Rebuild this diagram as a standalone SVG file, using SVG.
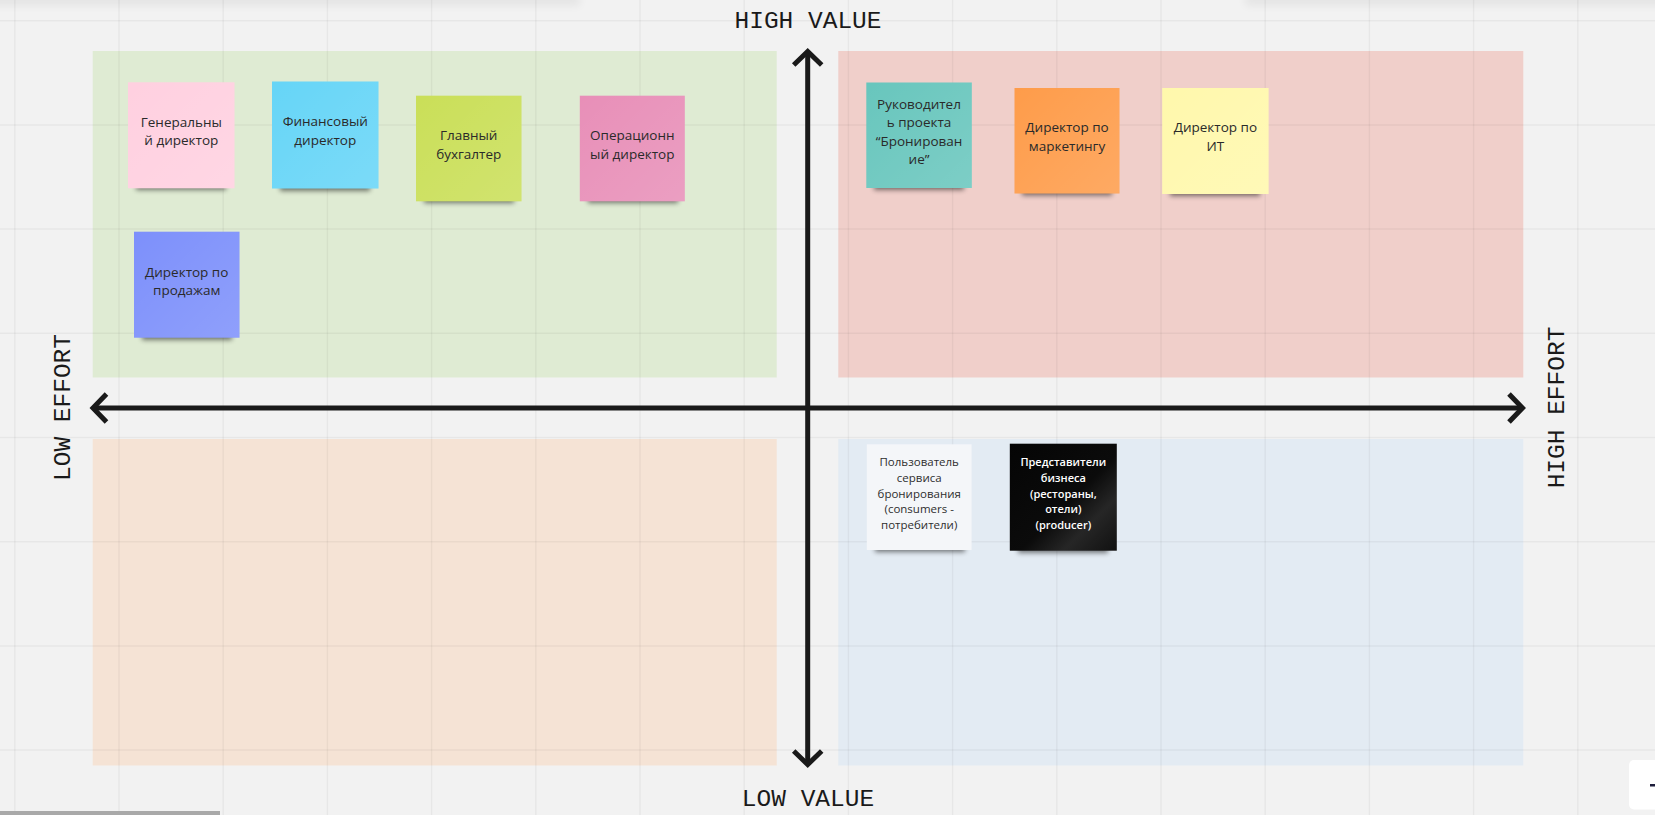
<svg xmlns="http://www.w3.org/2000/svg" width="1655" height="815" viewBox="0 0 1655 815">
<defs>
<style>
.grid line{stroke:#000;stroke-opacity:0.045;stroke-width:1.5}
.axis{stroke:#1a1a1a;stroke-width:5;fill:none}
.lbl{font-family:"Liberation Mono","DejaVu Sans Mono",monospace;font-size:24.5px;fill:#1a1a1a;text-anchor:middle}
.nt{font-family:"Open Sans","Noto Sans",sans-serif;font-size:13.5px;fill:#2a2a2a;text-anchor:middle}
.ns{font-family:"Open Sans","Noto Sans",sans-serif;font-size:11.5px;fill:#2e2e2e;text-anchor:middle}
.nw{font-family:"Open Sans","Noto Sans",sans-serif;font-size:11px;font-weight:600;fill:#ffffff;text-anchor:middle}
.shadow{fill:#000;opacity:0.5;filter:url(#blur)}
.sheen{fill:url(#sheen)}
</style>
<filter id="blur" x="-20%" y="-100%" width="140%" height="300%"><feGaussianBlur stdDeviation="2.6"/></filter>
<filter id="blur2" x="-5%" y="-100%" width="110%" height="300%"><feGaussianBlur stdDeviation="4"/></filter>
<linearGradient id="sheen" x1="0" y1="0" x2="1" y2="1">
<stop offset="0" stop-color="#fff" stop-opacity="0"/>
<stop offset="1" stop-color="#fff" stop-opacity="0.14"/>
</linearGradient>
<linearGradient id="blackg" x1="0" y1="0" x2="1" y2="1">
<stop offset="0" stop-color="#050505"/>
<stop offset="0.55" stop-color="#0b0b0b"/>
<stop offset="0.75" stop-color="#262626"/>
<stop offset="1" stop-color="#111"/>
</linearGradient>
<marker id="chev" markerUnits="userSpaceOnUse" orient="auto-start-reverse" refX="0" refY="0" markerWidth="40" markerHeight="40" overflow="visible">
<path d="M-12,-14 L1.5,0 L-12,14" fill="none" stroke="#1a1a1a" stroke-width="5" stroke-linejoin="miter"/>
</marker>
</defs>

<rect x="0" y="0" width="1655" height="815" fill="#f2f2f2"/>
<rect x="-10" y="-8" width="590" height="14" fill="#000" opacity="0.05" filter="url(#blur2)"/>
<rect x="1245" y="-8" width="420" height="14" fill="#000" opacity="0.05" filter="url(#blur2)"/>

<g id="quadrants">
<rect id="q-high-value-low-effort" x="92.7" y="51" width="684" height="326.5" fill="#dfebd3"/>
<rect id="q-high-value-high-effort" x="838.3" y="51" width="685" height="326.5" fill="#f0cfca"/>
<rect id="q-low-value-low-effort" x="92.7" y="439" width="684" height="326.5" fill="#f5e3d5"/>
<rect id="q-low-value-high-effort" x="838.3" y="439" width="685" height="326.5" fill="#e3ebf3"/>
</g>

<g class="grid">
<line x1="14.8" y1="0" x2="14.8" y2="815"/>
<line x1="119" y1="0" x2="119" y2="815"/>
<line x1="223.2" y1="0" x2="223.2" y2="815"/>
<line x1="327.4" y1="0" x2="327.4" y2="815"/>
<line x1="431.6" y1="0" x2="431.6" y2="815"/>
<line x1="535.8" y1="0" x2="535.8" y2="815"/>
<line x1="640" y1="0" x2="640" y2="815"/>
<line x1="744.2" y1="0" x2="744.2" y2="815"/>
<line x1="848.4" y1="0" x2="848.4" y2="815"/>
<line x1="952.6" y1="0" x2="952.6" y2="815"/>
<line x1="1056.8" y1="0" x2="1056.8" y2="815"/>
<line x1="1161" y1="0" x2="1161" y2="815"/>
<line x1="1265.2" y1="0" x2="1265.2" y2="815"/>
<line x1="1369.4" y1="0" x2="1369.4" y2="815"/>
<line x1="1473.6" y1="0" x2="1473.6" y2="815"/>
<line x1="1577.8" y1="0" x2="1577.8" y2="815"/>
<line x1="0" y1="20.7" x2="1655" y2="20.7"/>
<line x1="0" y1="124.9" x2="1655" y2="124.9"/>
<line x1="0" y1="229.1" x2="1655" y2="229.1"/>
<line x1="0" y1="333.3" x2="1655" y2="333.3"/>
<line x1="0" y1="437.5" x2="1655" y2="437.5"/>
<line x1="0" y1="541.7" x2="1655" y2="541.7"/>
<line x1="0" y1="645.9" x2="1655" y2="645.9"/>
<line x1="0" y1="750.1" x2="1655" y2="750.1"/>
</g>

<g id="connectors">
<line id="axis-value" class="axis" x1="807.7" y1="53" x2="807.7" y2="763" marker-start="url(#chev)" marker-end="url(#chev)"/>
<line id="axis-effort" class="axis" x1="94.5" y1="408" x2="1521" y2="408" marker-start="url(#chev)" marker-end="url(#chev)"/>
</g>

<g id="labels">
<text id="lbl-high-value" class="lbl" x="808" y="28">HIGH VALUE</text>
<text id="lbl-low-value" class="lbl" x="808" y="806">LOW VALUE</text>
<text id="lbl-low-effort" class="lbl" transform="translate(69.5,407.5) rotate(-90)">LOW EFFORT</text>
<text id="lbl-high-effort" class="lbl" transform="translate(1563.5,407.5) rotate(-90)">HIGH EFFORT</text>
</g>

<g id="note-ceo">
<rect class="shadow" x="136" y="180" width="90" height="10"/>
<rect x="128" y="82.3" width="106.5" height="106" fill="#ffd0e0"/>
<rect class="sheen" x="128" y="82.3" width="106.5" height="106"/>
<text class="nt" x="181.3" y="126.5">Генеральны</text>
<text class="nt" x="181.3" y="145">й директор</text>
</g>

<g id="note-cfo">
<rect class="shadow" x="280" y="181" width="90" height="10"/>
<rect x="272" y="81.5" width="106.5" height="107" fill="#66d5f7"/>
<rect class="sheen" x="272" y="81.5" width="106.5" height="107"/>
<text class="nt" x="325.3" y="126.3">Финансовый</text>
<text class="nt" x="325.3" y="144.8">директор</text>
</g>

<g id="note-accountant">
<rect class="shadow" x="424" y="193" width="90" height="10"/>
<rect x="416" y="95.7" width="105.5" height="105.6" fill="#cadf58"/>
<rect class="sheen" x="416" y="95.7" width="105.5" height="105.6"/>
<text class="nt" x="468.7" y="140">Главный</text>
<text class="nt" x="468.7" y="158.5">бухгалтер</text>
</g>

<g id="note-coo">
<rect class="shadow" x="588" y="193" width="90" height="10"/>
<rect x="579.8" y="95.7" width="105" height="105.6" fill="#e88fb8"/>
<rect class="sheen" x="579.8" y="95.7" width="105" height="105.6"/>
<text class="nt" x="632.3" y="140">Операционн</text>
<text class="nt" x="632.3" y="158.5">ый директор</text>
</g>

<g id="note-sales">
<rect class="shadow" x="142" y="330" width="90" height="10"/>
<rect x="134" y="231.7" width="105.5" height="106" fill="#7d90fb"/>
<rect class="sheen" x="134" y="231.7" width="105.5" height="106"/>
<text class="nt" x="186.7" y="276.5">Директор по</text>
<text class="nt" x="186.7" y="295">продажам</text>
</g>

<g id="note-pm">
<rect class="shadow" x="874" y="180" width="90" height="10"/>
<rect x="866.3" y="82.5" width="105.5" height="105.5" fill="#68c6bd"/>
<rect class="sheen" x="866.3" y="82.5" width="105.5" height="105.5"/>
<text class="nt" x="919" y="108.7">Руководител</text>
<text class="nt" x="919" y="127.2">ь проекта</text>
<text class="nt" x="919" y="145.7">“Бронирован</text>
<text class="nt" x="919" y="164.2">ие”</text>
</g>

<g id="note-cmo">
<rect class="shadow" x="1022" y="185.5" width="90" height="10"/>
<rect x="1014.5" y="88" width="105" height="105.5" fill="#fe9c4a"/>
<rect class="sheen" x="1014.5" y="88" width="105" height="105.5"/>
<text class="nt" x="1067" y="132">Директор по</text>
<text class="nt" x="1067" y="150.5">маркетингу</text>
</g>

<g id="note-cio">
<rect class="shadow" x="1170" y="186" width="90" height="10"/>
<rect x="1162.2" y="88" width="106.4" height="106" fill="#fff8ac"/>
<rect class="sheen" x="1162.2" y="88" width="106.4" height="106"/>
<text class="nt" x="1215.4" y="132">Директор по</text>
<text class="nt" x="1215.4" y="150.5">ИТ</text>
</g>

<g id="note-consumers">
<rect class="shadow" x="875" y="542" width="90" height="10"/>
<rect x="866.8" y="444.3" width="104.8" height="105.7" fill="#f4f6f9"/>
<text class="ns" x="919.2" y="466.1">Пользователь</text>
<text class="ns" x="919.2" y="481.8">сервиса</text>
<text class="ns" x="919.2" y="497.5">бронирования</text>
<text class="ns" x="919.2" y="513.2">(consumers -</text>
<text class="ns" x="919.2" y="528.9">потребители)</text>
</g>

<g id="note-producers">
<rect class="shadow" x="1018" y="543" width="90" height="10"/>
<rect x="1009.8" y="443.7" width="107" height="107" fill="url(#blackg)"/>
<text class="nw" x="1063.3" y="466.1">Представители</text>
<text class="nw" x="1063.3" y="481.8">бизнеса</text>
<text class="nw" x="1063.3" y="497.5">(рестораны,</text>
<text class="nw" x="1063.3" y="513.2">отели)</text>
<text class="nw" x="1063.3" y="528.9">(producer)</text>
</g>

<rect x="0" y="811" width="220" height="4" fill="#a9a9a9"/>
<rect x="1629" y="760" width="40" height="49.5" rx="5" fill="#ffffff"/>
<rect x="1650" y="784" width="6" height="2.5" fill="#1d1d3b"/>
</svg>
